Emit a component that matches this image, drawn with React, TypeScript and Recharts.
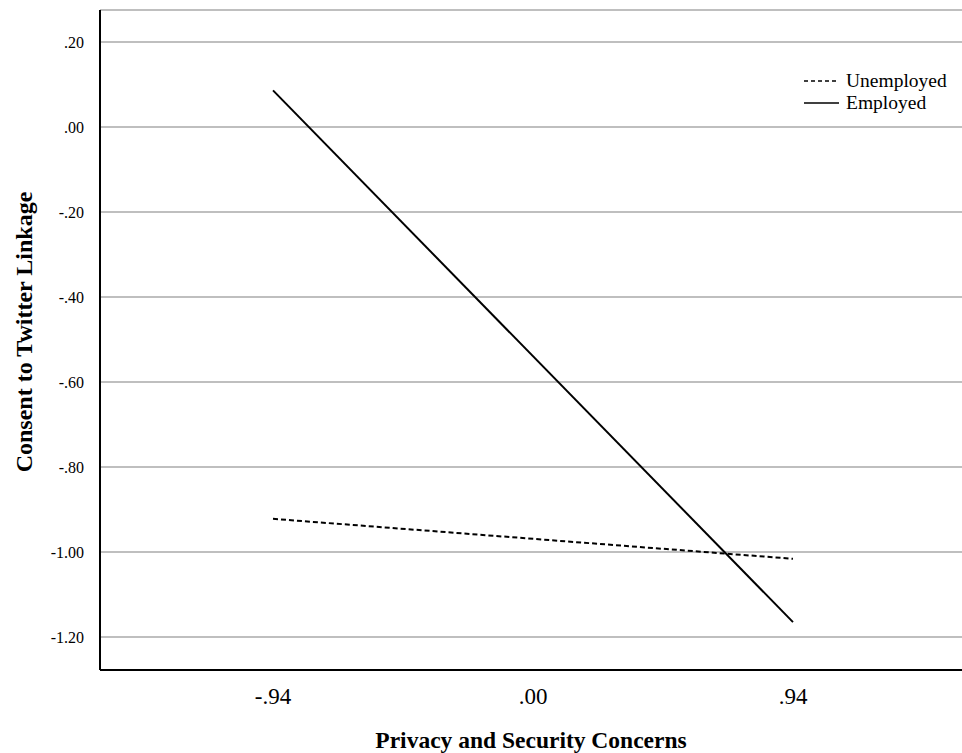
import { LineChart, Line, XAxis, YAxis, CartesianGrid, Label } from "recharts";

const concernLevels = [-0.94, 0.94];
const unemployedValues = [-0.922, -1.016];
const employedValues = [0.086, -1.165];
const xTicks = [-0.94, 0, 0.94];
const yTicks = [-1.2, -1.0, -0.8, -0.6, -0.4, -0.2, 0, 0.2];

const data = concernLevels.map((x, i) => ({
  x,
  unemployed: unemployedValues[i],
  employed: employedValues[i],
}));

const fmt = (v: number) => {
  const s = Math.abs(v).toFixed(2).replace(/^0/, "");
  return v < -0.0001 ? "-" + s : s;
};

const font = "'Liberation Serif', 'Times New Roman', serif";

function LegendBox() {
  return (
    <div
      style={{
        position: "absolute",
        left: 804,
        top: 70,
        fontFamily: font,
        fontSize: 19.5,
        color: "#000",
        lineHeight: "22px",
      }}
    >
      <div style={{ display: "flex", alignItems: "center" }}>
        <svg width={42} height={10}>
          <line x1={0} y1={5} x2={35} y2={5} stroke="#000" strokeWidth={1.5} strokeDasharray="4 3" />
        </svg>
        <span>Unemployed</span>
      </div>
      <div style={{ display: "flex", alignItems: "center" }}>
        <svg width={42} height={10}>
          <line x1={0} y1={5} x2={35} y2={5} stroke="#000" strokeWidth={1.5} />
        </svg>
        <span>Employed</span>
      </div>
    </div>
  );
}

// y title sits inside the axis box, near its left edge
const YTitle = (props: any) => {
  const vb = props.viewBox || {};
  const cx = vb.x + 24;
  const cy = vb.y + vb.height / 2 - 8;
  return (
    <text
      x={cx}
      y={cy}
      transform={`rotate(-90 ${cx} ${cy})`}
      textAnchor="middle"
      dominantBaseline="central"
      style={{ fill: "#000", fontSize: 24, fontWeight: "bold", fontFamily: font }}
    >
      Consent to Twitter Linkage
    </text>
  );
};

const XTitle = (props: any) => {
  const vb = props.viewBox || {};
  const cx = vb.x + vb.width / 2;
  const cy = vb.y + 70;
  return (
    <text
      x={cx}
      y={cy}
      textAnchor="middle"
      dominantBaseline="central"
      style={{ fill: "#000", fontSize: 23.5, fontWeight: "bold", fontFamily: font }}
    >
      Privacy and Security Concerns
    </text>
  );
};

export default function App() {
  return (
    <div style={{ position: "absolute", left: 0, top: 0, width: 962, height: 753, background: "#fff" }}>
      <LineChart width={962} height={753} data={data} margin={{ top: 10, right: 0, bottom: 53, left: 0 }}>
        <CartesianGrid vertical={false} stroke="#aaaaaa" strokeWidth={1.5} />
        <XAxis
          type="number"
          dataKey="x"
          height={30}
          domain={[-1.5655, 1.551]}
          ticks={xTicks}
          tickFormatter={fmt}
          tickLine={false}
          tickMargin={12}
          axisLine={{ stroke: "#000", strokeWidth: 2 }}
          tick={{ fill: "#000", fontSize: 23, fontFamily: font }}
        >
          <Label content={XTitle} />
        </XAxis>
        <YAxis
          type="number"
          width={100}
          domain={[-1.2776, 0.275]}
          ticks={yTicks}
          tickFormatter={fmt}
          tickLine={false}
          tickMargin={10}
          axisLine={{ stroke: "#000", strokeWidth: 2 }}
          tick={{ fill: "#000", fontSize: 16, fontFamily: font }}
        >
          <Label content={YTitle} />
        </YAxis>
        <Line
          dataKey="unemployed"
          stroke="#000"
          strokeWidth={2}
          strokeDasharray="5 3"
          dot={false}
          isAnimationActive={false}
        />
        <Line dataKey="employed" stroke="#000" strokeWidth={2} dot={false} isAnimationActive={false} />
      </LineChart>
      <LegendBox />
    </div>
  );
}
